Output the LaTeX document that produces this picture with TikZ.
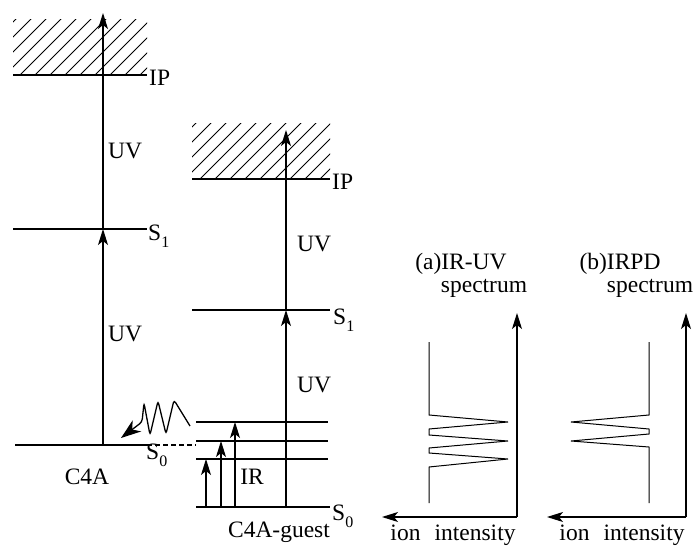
\documentclass[tikz,border=0pt]{standalone}
\usepackage{fontspec}
\setmainfont{Liberation Serif}
\usetikzlibrary{arrows.meta}
\newcommand\lvlS[1]{S\raisebox{-7pt}{\fontsize{16}{16}\selectfont #1}}
\tikzset{
  lbl/.style={inner sep=0pt, font=\fontsize{23.5}{25}\selectfont},
  lev/.style={line width=1.2pt},
  arr/.style={line width=1.2pt, -{Stealth[length=16pt,width=10pt,inset=4pt]}},
  hatch/.style={line width=1pt},
  trace/.style={line width=1pt},
}
\begin{document}
\begin{tikzpicture}[x=1pt,y=-1pt]
\useasboundingbox (0,0) rectangle (694,551);
% ---------- C4A ----------
\coordinate (A0l) at (15,445);
\coordinate (A0r) at (147,445);
\coordinate (A0d) at (196,445);
\coordinate (A1l) at (13,229);
\coordinate (A1r) at (147,229);
\coordinate (AIl) at (13,75);
\coordinate (AIr) at (147,75);
\coordinate (Av0) at (103,445);
\coordinate (Av1) at (103,229);
\coordinate (Avt) at (103,13);
\begin{scope}
  \clip (13,20) rectangle (147,75);
  \foreach \k in {-4,...,9} \draw[hatch] (20+15*\k,75) -- ++(57,-57);
\end{scope}
\draw[lev] (AIl) -- (AIr);
\draw[lev] (A1l) -- (A1r);
\draw[lev] (A0l) -- (A0r);
\draw[lev,dash pattern=on 5pt off 3pt] (A0r) -- (A0d);
\draw[arr] (Av0) -- (Av1);
\draw[arr] (Av1) -- (Avt);
\node[lbl,anchor=base west] (ipA) at (149,86) {IP};
\node[lbl,anchor=base west] (s1A) at (148,240) {\lvlS{1}};
\node[lbl,anchor=base west] (s0A) at (146,459) {\lvlS{0}};
\node[lbl,anchor=base west] (uvA1) at (108,158) {UV};
\node[lbl,anchor=base west] (uvA2) at (108,341) {UV};
\node[lbl] (c4a) at (87,477) {C4A};
% wavy arrow
\coordinate (wS) at (190,426);
\coordinate (wB) at (142,422);
\coordinate (wE) at (121,438);
\draw[line width=1.3pt,-{Stealth[length=20pt,width=14pt,inset=6pt]}]
  [rounded corners=3pt] (wS) -- (174,400) -- (166,434) -- (158,401) -- (150,435) -- (144,403) -- (wB) [sharp corners] -- (wE);
% ---------- C4A-guest ----------
\coordinate (B0l) at (196,507);
\coordinate (B0r) at (330,507);
\coordinate (Bv1l) at (196,459);
\coordinate (Bv1r) at (328,459);
\coordinate (Bv2l) at (196,441);
\coordinate (Bv2r) at (328,441);
\coordinate (Bv3l) at (196,422);
\coordinate (Bv3r) at (328,422);
\coordinate (B1l) at (192,310);
\coordinate (B1r) at (330,310);
\coordinate (BIl) at (192,179);
\coordinate (BIr) at (330,179);
\coordinate (Bu0) at (286,507);
\coordinate (Bu1) at (286,310);
\coordinate (But) at (286,130);
\begin{scope}
  \clip (192,123) rectangle (330,179);
  \foreach \k in {-4,...,9} \draw[hatch] (200+15*\k,179) -- ++(58,-58);
\end{scope}
\draw[lev] (BIl) -- (BIr);
\draw[lev] (B1l) -- (B1r);
\draw[lev] (Bv3l) -- (Bv3r);
\draw[lev] (Bv2l) -- (Bv2r);
\draw[lev] (Bv1l) -- (Bv1r);
\draw[lev] (B0l) -- (B0r);
\draw[arr] (Bu0) -- (Bu1);
\draw[arr] (Bu1) -- (But);
\coordinate (ir1b) at (206,507); \coordinate (ir1t) at (206,459);
\coordinate (ir2b) at (221,507); \coordinate (ir2t) at (221,441);
\coordinate (ir3b) at (235,507); \coordinate (ir3t) at (235,422);
\draw[arr] (ir1b) -- (ir1t);
\draw[arr] (ir2b) -- (ir2t);
\draw[arr] (ir3b) -- (ir3t);
\node[lbl,anchor=base west] (ipB) at (332,189) {IP};
\node[lbl,anchor=base west] (s1B) at (333,324) {\lvlS{1}};
\node[lbl,anchor=base west] (s0B) at (332,520) {\lvlS{0}};
\node[lbl,anchor=base west] (uvB1) at (297,251) {UV};
\node[lbl,anchor=base west] (uvB2) at (297,392) {UV};
\node[lbl] (ir) at (252,477) {IR};
\node[lbl] (c4ag) at (279,532) {C4A-guest};
% ---------- spectrum (a) ----------
\coordinate (aO) at (517,517);
\coordinate (aY) at (517,313);
\coordinate (aX) at (382,517);
\draw[arr] (aO) -- (aY);
\draw[arr] (aO) -- (aX);
\draw[trace] (429,342) -- (429,415) -- (508,422) -- (429,429) -- (429,435) -- (508,441) -- (429,448) -- (429,453) -- (508,459) -- (429,467) -- (429,503);
\node[lbl] (ta1) at (461,264) {(a)IR-UV};
\node[lbl] (ta2) at (484,288) {spectrum};
\node[lbl] (xa) at (453,535) {ion\hspace{0.6em}intensity};
% ---------- spectrum (b) ----------
\coordinate (bO) at (686,517);
\coordinate (bY) at (686,313);
\coordinate (bX) at (547,517);
\draw[arr] (bO) -- (bY);
\draw[arr] (bO) -- (bX);
\draw[trace] (649,342) -- (649,415) -- (571,422) -- (649,429) -- (649,434) -- (571,441) -- (649,447) -- (649,503);
\node[lbl] (tb1) at (620,264) {(b)IRPD};
\node[lbl] (tb2) at (650,288) {spectrum};
\node[lbl] (xb) at (622,535) {ion\hspace{0.6em}intensity};
\end{tikzpicture}
\end{document}
